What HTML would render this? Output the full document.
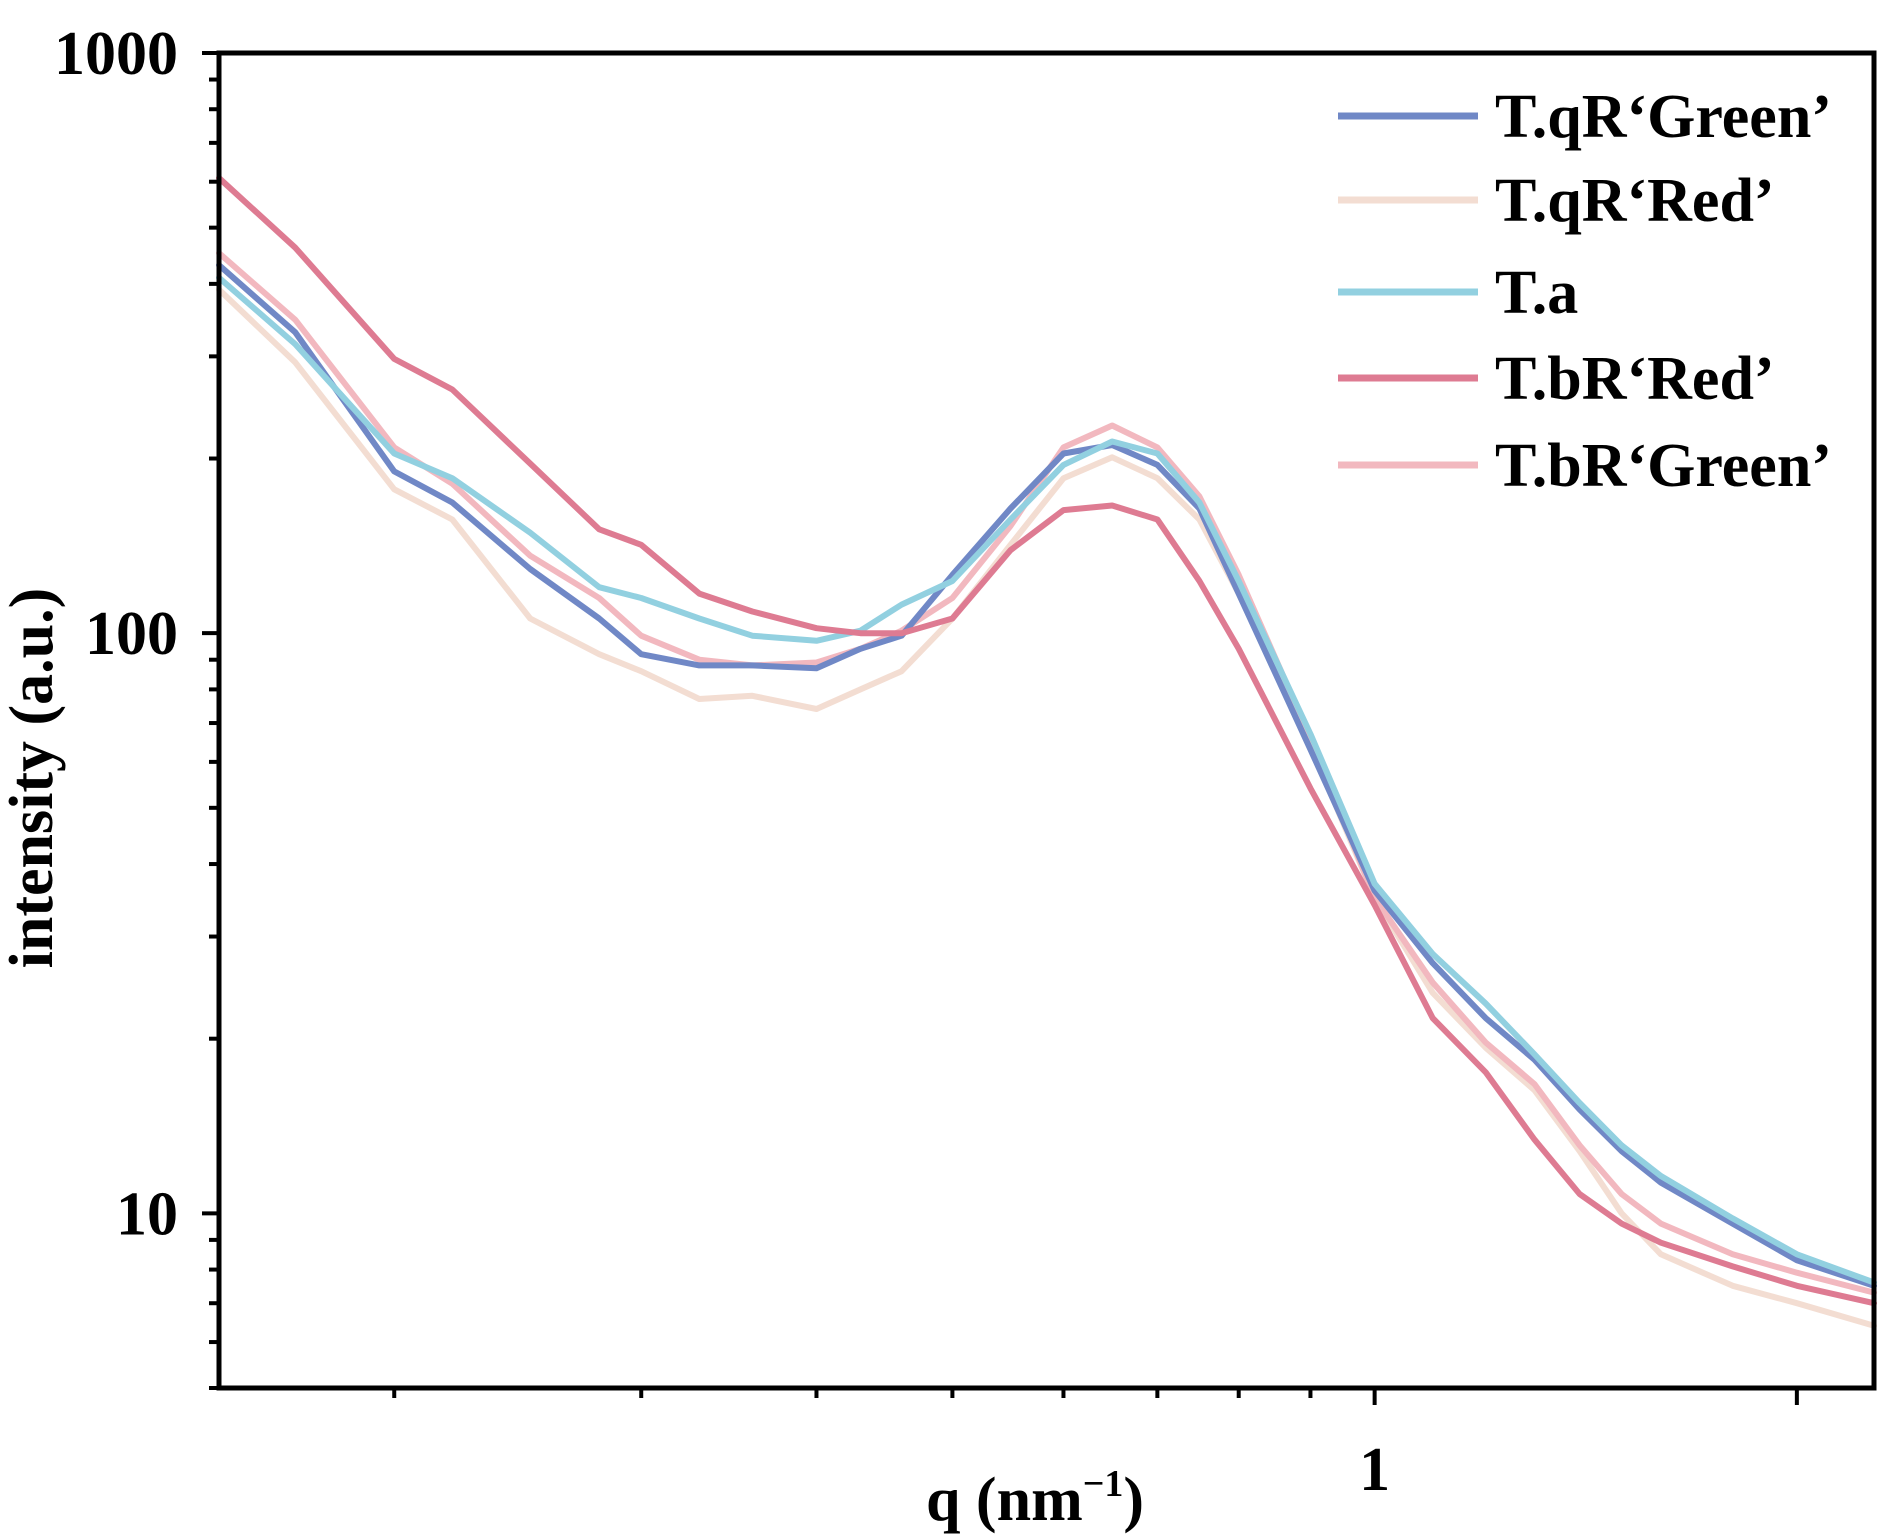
<!DOCTYPE html>
<html><head><meta charset="utf-8"><style>
html,body{margin:0;padding:0;background:#fff;}
svg{display:block;}
text{font-family:"Liberation Serif",serif;font-weight:bold;fill:#000;}
</style></head><body>
<svg id="chart" width="1902" height="1539" viewBox="0 0 1902 1539" xmlns="http://www.w3.org/2000/svg">
<g id="series"></g>
<g id="axes"></g>
<g id="legend"></g>
<text x="1035" y="1520" font-size="62" text-anchor="middle">q (nm<tspan font-size="38" dy="-24">−1</tspan><tspan dy="24">)</tspan></text>
<text x="0" y="0" font-size="62" text-anchor="middle" transform="translate(52,778) rotate(-90)">intensity (a.u.)</text>
</svg>
<script>
const qValues=[0.15,0.17,0.2,0.22,0.25,0.28,0.3,0.33,0.36,0.4,0.43,0.46,0.5,0.55,0.6,0.65,0.7,0.75,0.8,0.9,1.0,1.1,1.2,1.3,1.4,1.5,1.6,1.8,2.0,2.27];
const seriesNames=["T.qR‘Green’","T.qR‘Red’","T.a","T.bR‘Red’","T.bR‘Green’"];
const qRGreen=[431,330,190,168,129,106,92,88,88,87,94,99,126,164,204,211,195,164,117,63,36,27,21.7,18.4,15.1,12.8,11.3,9.6,8.3,7.5];
const qRRed=[391,293,177,157,106,92,86,77,78,74,80,86,106,142,185,201,185,157,117,64,35,24,19.3,16.3,12.8,10,8.5,7.5,7.0,6.4];
const tA=[410,315,204,185,149,120,115,106,99,97,101,112,123,157,195,214,204,168,123,67,37,28,23,18.8,15.5,13.1,11.6,9.8,8.5,7.6];
const bRRed=[609,462,297,263,196,151,142,117,109,102,100,100,106,139,163,166,157,123,94,54,34,21.7,17.5,13.4,10.8,9.6,8.9,8.1,7.5,7.0];
const bRGreen=[452,347,209,181,136,115,99,90,88,89,94,101,115,153,209,228,209,172,126,66,35,25,19.7,16.7,13.1,10.8,9.6,8.5,7.9,7.3];
const yTickValues=[10,100,1000];
const yTickLabels=["10","100","1000"];
const xTickValues=[1];
const xTickLabels=["1"];

const NS="http://www.w3.org/2000/svg";
const X0=219,X1=1874,Y0=1388,Y1=53;
const xMin=0.15,xMax=2.27,yMin=5.0,yMax=1000;
function xs(q){return X0+(Math.log10(q)-Math.log10(xMin))/(Math.log10(xMax)-Math.log10(xMin))*(X1-X0);}
function ys(v){return Y0-(Math.log10(v)-Math.log10(yMin))/(Math.log10(yMax)-Math.log10(yMin))*(Y0-Y1);}
function mk(tag,attrs,parent){const e=document.createElementNS(NS,tag);for(const k in attrs)e.setAttribute(k,attrs[k]);parent.appendChild(e);return e;}

const seriesData=[qRGreen,qRRed,tA,bRRed,bRGreen];
const colors=["#7088c6","#f3ddd2","#92d0e0","#de7b92","#f2b8bf"];
const order=[1,4,0,2,3];
const sg=document.getElementById('series');
order.forEach(i=>{
  const pts=qValues.map((q,j)=>xs(q).toFixed(1)+","+ys(seriesData[i][j]).toFixed(1)).join(" ");
  const p=mk('polyline',{points:pts,fill:'none',stroke:colors[i],'stroke-width':6,'stroke-linejoin':'round','stroke-linecap':'round'},sg);
  
  
});

const ag=document.getElementById('axes');
const frame=mk('rect',{x:X0,y:Y1,width:X1-X0,height:Y0-Y1,fill:'none',stroke:'#000','stroke-width':5},ag);


for(let d=0;d<3;d++){
  const base=Math.pow(10,d+1);
  for(let m=1;m<10;m++){
    const v=base*m; if(v<yMin||v>yMax)continue;
    const y=ys(v);const len=m===1?17:10;
    const t=mk('line',{x1:X0-len,x2:X0,y1:y,y2:y,stroke:'#000','stroke-width':4},ag);
    
    
  }
}
[5,6,7,8,9].forEach(v=>{const y=ys(v);const t=mk('line',{x1:X0-10,x2:X0,y1:y,y2:y,stroke:'#000','stroke-width':4},ag);
  
  });
const t1000=mk('line',{x1:X0-17,x2:X0,y1:ys(1000),y2:ys(1000),stroke:'#000','stroke-width':4},ag);


yTickValues.forEach((v,i)=>{
  const t=mk('text',{x:178,y:ys(v)+21,'font-size':62,'text-anchor':'end'},ag);
  t.textContent=yTickLabels[i];
  
  
});
[0.2,0.3,0.4,0.5,0.6,0.7,0.8,0.9,1,2].forEach(q=>{
  const x=xs(q);const len=(q===1||q===2)?17:10;
  const t=mk('line',{x1:x,x2:x,y1:Y0,y2:Y0+len,stroke:'#000','stroke-width':4},ag);
  
  
});
xTickValues.forEach((q,i)=>{
  const t=mk('text',{x:xs(q),y:1490,'font-size':62,'text-anchor':'middle'},ag);
  t.textContent=xTickLabels[i];
  
  
});

const lg=document.getElementById('legend');
const legY=[116,200,292,378,465];
seriesNames.forEach((n,i)=>{
  const l=mk('line',{x1:1338,x2:1478,y1:legY[i],y2:legY[i],stroke:colors[i],'stroke-width':7},lg);
  
  
  const t=mk('text',{x:1495,y:legY[i]+21,'font-size':62},lg);
  t.textContent=n;
  
  
});
</script>
</body></html>
